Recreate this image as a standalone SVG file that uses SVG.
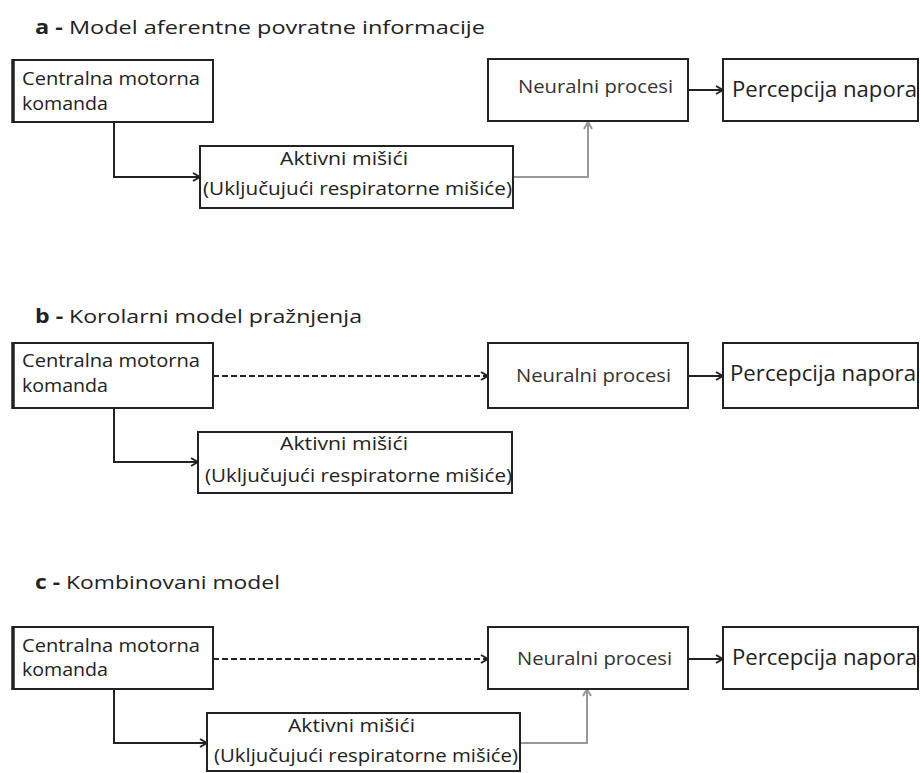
<svg xmlns="http://www.w3.org/2000/svg" width="920" height="773" viewBox="0 0 920 773">
<style>
  .box{fill:#fff;stroke:#222;stroke-width:2}
  .edge{stroke:#222;stroke-width:3.5}
  .t{font-family:"Open Sans","DejaVu Sans",sans-serif;fill:#222;font-size:19px}
  .title{font-family:"Open Sans","DejaVu Sans",sans-serif;fill:#222;font-size:19px}
  .np{font-family:"Open Sans","DejaVu Sans",sans-serif;fill:#333;font-size:18px}
  .pn{font-family:"Open Sans","DejaVu Sans",sans-serif;fill:#222;font-size:21px}
  .c{fill:none;stroke:#222;stroke-width:2;marker-end:url(#ah)}
  .d{fill:none;stroke:#222;stroke-width:2;stroke-dasharray:6 3;marker-end:url(#ah)}
  .g{fill:none;stroke:#999;stroke-width:2;marker-end:url(#ahg)}
</style>
<defs>
  <marker id="ah" viewBox="0 0 10 10" markerWidth="10" markerHeight="10" refX="9" refY="5" orient="auto" markerUnits="userSpaceOnUse">
    <path d="M2,1 L9,5 L2,9" fill="none" stroke="#222" stroke-width="2"/>
  </marker>
  <marker id="ahg" viewBox="0 0 10 10" markerWidth="10" markerHeight="10" refX="9" refY="5" orient="auto" markerUnits="userSpaceOnUse">
    <path d="M2,1 L9,5 L2,9" fill="none" stroke="#999" stroke-width="2"/>
  </marker>
</defs>
<rect width="920" height="773" fill="#fff"/>

<!-- Titles -->
<text class="title" x="35" y="34" textLength="450" lengthAdjust="spacingAndGlyphs"><tspan font-weight="bold">a -</tspan> Model aferentne povratne informacije</text>
<text class="title" x="35" y="323" textLength="327" lengthAdjust="spacingAndGlyphs"><tspan font-weight="bold">b -</tspan> Korolarni model pražnjenja</text>
<text class="title" x="35" y="589" textLength="245" lengthAdjust="spacingAndGlyphs"><tspan font-weight="bold">c -</tspan> Kombinovani model</text>

<!-- Connectors -->
<g id="connectors">
  <path class="c" d="M114,122 V177 H200"/>
  <path class="g" d="M513,177 H588 V122"/>
  <path class="c" d="M688,90 H723"/>

  <path class="c" d="M114,408 V462 H198"/>
  <path class="d" d="M213,376 H488"/>
  <path class="c" d="M688,376 H723"/>

  <path class="c" d="M114,689 V743 H207"/>
  <path class="d" d="M213,659 H488"/>
  <path class="g" d="M520,743 H587 V689"/>
  <path class="c" d="M688,659 H723"/>
</g>

<!-- Panel a -->
<g id="a-cmk">
  <rect class="box" x="13" y="60" width="200" height="62"/>
  <line class="edge" x1="13" y1="59" x2="13" y2="123"/>
  <text class="t" x="22" y="85" textLength="178" lengthAdjust="spacingAndGlyphs">Centralna motorna</text>
  <text class="t" x="22" y="110" textLength="86" lengthAdjust="spacingAndGlyphs">komanda</text>
</g>
<g id="a-aktivni">
  <rect class="box" x="200" y="146" width="313" height="62"/>
  <text class="t" x="280" y="165" textLength="128" lengthAdjust="spacingAndGlyphs">Aktivni mišići</text>
  <text class="t" x="203" y="195" textLength="309" lengthAdjust="spacingAndGlyphs">(Uključujući respiratorne mišiće)</text>
</g>
<g id="a-neuralni">
  <rect class="box" x="488" y="59" width="200" height="62"/>
  <text class="np" x="518" y="93" textLength="155" lengthAdjust="spacingAndGlyphs">Neuralni procesi</text>
</g>
<g id="a-percepcija">
  <rect class="box" x="723" y="59" width="195" height="62"/>
  <text class="pn" x="732" y="97" textLength="185" lengthAdjust="spacingAndGlyphs">Percepcija napora</text>
</g>

<!-- Panel b -->
<g id="b-cmk">
  <rect class="box" x="13" y="343" width="200" height="65"/>
  <line class="edge" x1="13" y1="342" x2="13" y2="409"/>
  <text class="t" x="22" y="367" textLength="178" lengthAdjust="spacingAndGlyphs">Centralna motorna</text>
  <text class="t" x="22" y="392" textLength="86" lengthAdjust="spacingAndGlyphs">komanda</text>
</g>
<g id="b-aktivni">
  <rect class="box" x="198" y="432" width="314" height="61"/>
  <text class="t" x="280" y="450" textLength="128" lengthAdjust="spacingAndGlyphs">Aktivni mišići</text>
  <text class="t" x="205" y="482" textLength="307" lengthAdjust="spacingAndGlyphs">(Uključujući respiratorne mišiće)</text>
</g>
<g id="b-neuralni">
  <rect class="box" x="488" y="343" width="200" height="65"/>
  <text class="np" x="516" y="382" textLength="155" lengthAdjust="spacingAndGlyphs">Neuralni procesi</text>
</g>
<g id="b-percepcija">
  <rect class="box" x="723" y="343" width="195" height="65"/>
  <text class="pn" x="730" y="381" textLength="186" lengthAdjust="spacingAndGlyphs">Percepcija napora</text>
</g>

<!-- Panel c -->
<g id="c-cmk">
  <rect class="box" x="13" y="627" width="200" height="62"/>
  <line class="edge" x1="13" y1="626" x2="13" y2="690"/>
  <text class="t" x="22" y="652" textLength="178" lengthAdjust="spacingAndGlyphs">Centralna motorna</text>
  <text class="t" x="22" y="676" textLength="86" lengthAdjust="spacingAndGlyphs">komanda</text>
</g>
<g id="c-aktivni">
  <rect class="box" x="207" y="713" width="313" height="58"/>
  <text class="t" x="288" y="732" textLength="127" lengthAdjust="spacingAndGlyphs">Aktivni mišići</text>
  <text class="t" x="214" y="762" textLength="304" lengthAdjust="spacingAndGlyphs">(Uključujući respiratorne mišiće)</text>
</g>
<g id="c-neuralni">
  <rect class="box" x="488" y="627" width="200" height="62"/>
  <text class="np" x="517" y="665" textLength="155" lengthAdjust="spacingAndGlyphs">Neuralni procesi</text>
</g>
<g id="c-percepcija">
  <rect class="box" x="723" y="627" width="195" height="62"/>
  <text class="pn" x="732" y="665" textLength="185" lengthAdjust="spacingAndGlyphs">Percepcija napora</text>
</g>
</svg>
